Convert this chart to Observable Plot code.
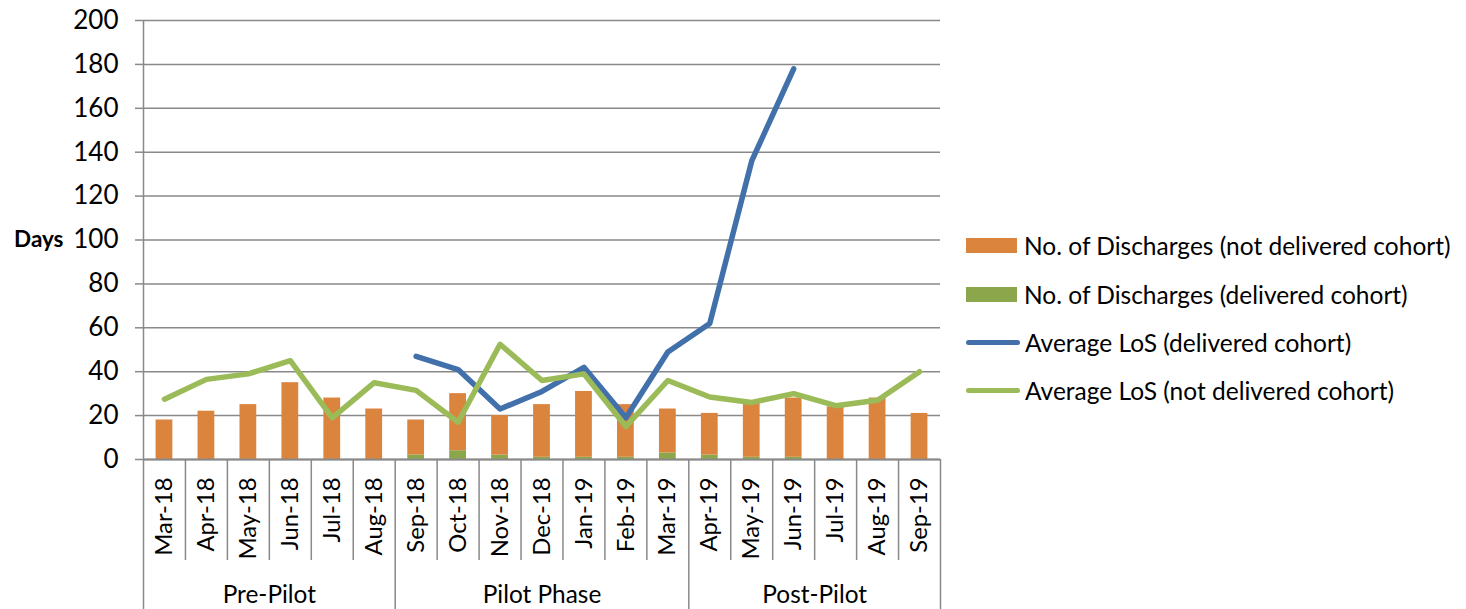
<!DOCTYPE html>
<html>
<head>
<meta charset="utf-8">
<script src="https://cdn.jsdelivr.net/npm/d3@7"></script>
<script src="https://cdn.jsdelivr.net/npm/@observablehq/plot@0.6"></script>
<style>
  html, body { margin: 0; padding: 0; background: #fff; }
  #wrap { position: relative; width: 1466px; height: 609px; font-family: Lato, "Open Sans", sans-serif; }
  #legend { position: absolute; left: 966px; top: 0; }
  .item { position: absolute; left: 0; display: flex; align-items: center; white-space: nowrap; font-size: 24.5px; color: #000; }
  .sw { width: 51px; height: 15px; margin-right: 7px; flex: none; }
  .ln { width: 54px; height: 5px; border-radius: 3px; margin-right: 5px; flex: none; }
</style>
</head>
<body>
<div id="wrap"><div id="legend"></div></div>
<script>
// Monthly discharges and average length of stay (LoS), Mar-18 to Sep-19
const months = ["Mar-18","Apr-18","May-18","Jun-18","Jul-18","Aug-18","Sep-18","Oct-18","Nov-18","Dec-18",
                "Jan-19","Feb-19","Mar-19","Apr-19","May-19","Jun-19","Jul-19","Aug-19","Sep-19"];
const phases = ["Pre-Pilot", "Pilot Phase", "Post-Pilot"];
const phaseMonths = [6, 7, 6];

// Number of discharges per month, split by cohort
const dischargesDelivered    = [0, 0, 0, 0, 0, 0, 2, 4, 2, 1, 1, 1, 3, 2, 1, 1, 0, 0, 0];
const dischargesNotDelivered = [18, 22, 25, 35, 28, 23, 16, 26, 18, 24, 30, 24, 20, 19, 25, 27, 24, 28, 21];

// Average LoS in days
const losDelivered    = [null, null, null, null, null, null, 47, 41, 23, 31, 42, 19, 49, 62, 136, 178, null, null, null];
const losNotDelivered = [27.5, 36.5, 39, 45, 19, 35, 31.5, 17, 52.5, 36, 39, 15, 36, 28.5, 26, 30, 24.5, 27, 40];

const yTicks = [0, 20, 40, 60, 80, 100, 120, 140, 160, 180, 200];

const orange = "#DA843E";
const green = "#8BA64B";
const blue = "#4170AA";
const lime = "#9BBB59";
const axisGray = "#898989";

// Stacked bar segments: delivered cohort at the base, not delivered on top
const bars = months.flatMap((m, i) => [
  {i, series: "delivered", y1: 0, y2: dischargesDelivered[i]},
  {i, series: "notDelivered", y1: dischargesDelivered[i], y2: dischargesDelivered[i] + dischargesNotDelivered[i]}
]);
const barHalf = 0.2;

const los = months.map((m, i) => ({i, delivered: losDelivered[i], notDelivered: losNotDelivered[i]}));

// Category axis: month separators and phase groups
const phaseStarts = phaseMonths.map((n, k) => d3.sum(phaseMonths.slice(0, k)));
const phaseEdges = [...phaseStarts.slice(1), months.length];
const monthEdges = d3.range(1, months.length).filter(e => !phaseEdges.includes(e));
const phaseLabels = phases.map((p, k) => ({p, c: phaseStarts[k] + phaseMonths[k] / 2}));

const font = "Lato, 'Open Sans', sans-serif";

const chart = Plot.plot({
  width: 1466,
  height: 609,
  marginLeft: 143,
  marginRight: 526,
  marginTop: 20,
  marginBottom: 150,
  style: {fontFamily: font, fontSize: "24px", color: "#000", background: "transparent"},
  x: {type: "linear", domain: [0, months.length], axis: null},
  y: {domain: [0, 200], axis: null},
  marks: [
    Plot.gridY(yTicks, {stroke: axisGray, strokeOpacity: 1, strokeWidth: 1.5}),
    Plot.axisY(yTicks, {tickSize: 8, tickPadding: 17, stroke: axisGray, strokeWidth: 1.5, fontSize: 26, fill: "#000", label: null, tickFormat: d => String(d)}),
    Plot.rect(bars, {
      x1: d => d.i + 0.5 - barHalf,
      x2: d => d.i + 0.5 + barHalf,
      y1: "y1",
      y2: "y2",
      fill: d => d.series === "delivered" ? green : orange
    }),
    // y-axis line, continued down through the category axis
    Plot.ruleX([0], {y1: 200, y2: 0, insetBottom: -150, stroke: axisGray, strokeWidth: 1.5}),
    Plot.ruleY([0], {stroke: axisGray, strokeWidth: 2}),
    Plot.ruleX(monthEdges, {y1: 0, y2: 0, insetBottom: -101, stroke: axisGray, strokeWidth: 1.5}),
    Plot.ruleX(phaseEdges, {y1: 0, y2: 0, insetBottom: -150, stroke: axisGray, strokeWidth: 1.5}),
    Plot.line(los, {x: d => d.i + 0.5, y: "delivered", stroke: blue, strokeWidth: 5.5, strokeLinejoin: "round", strokeLinecap: "round"}),
    Plot.line(los, {x: d => d.i + 0.5, y: "notDelivered", stroke: lime, strokeWidth: 5.5, strokeLinejoin: "round", strokeLinecap: "round"}),
    Plot.text(months, {x: (d, i) => i + 0.5, frameAnchor: "bottom", lineAnchor: "middle", rotate: -90, textAnchor: "end", dy: 18, fontSize: 23.8, fill: "#000"}),
    Plot.text(phaseLabels, {x: "c", text: "p", frameAnchor: "bottom", lineAnchor: "middle", dy: 136, fontSize: 24.4, fill: "#000"}),
    Plot.text(["Days"], {y: () => 100, frameAnchor: "left", lineAnchor: "middle", dx: -80, textAnchor: "end", fontWeight: "bold", fontSize: 22.5, fill: "#000"})
  ]
});
document.getElementById("wrap").prepend(chart);

// Legend
const legendItems = [
  {label: "No. of Discharges (not delivered cohort)", color: orange, kind: "sw", y: 245},
  {label: "No. of Discharges (delivered cohort)", color: green, kind: "sw", y: 294},
  {label: "Average LoS (delivered cohort)", color: blue, kind: "ln", y: 342},
  {label: "Average LoS (not delivered cohort)", color: lime, kind: "ln", y: 390}
];
const legend = d3.select("#legend");
for (const it of legendItems) {
  const row = legend.append("div").attr("class", "item").style("top", (it.y - 16) + "px").style("height", "32px");
  row.append("div").attr("class", it.kind).style("background", it.color);
  row.append("span").text(it.label);
}
</script>
</body>
</html>
